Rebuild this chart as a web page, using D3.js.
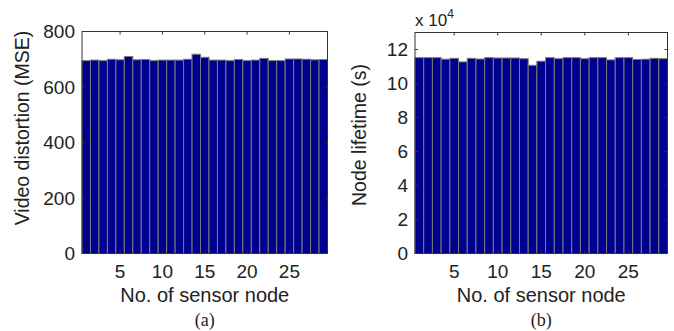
<!DOCTYPE html>
<html><head><meta charset="utf-8">
<script src="https://cdn.jsdelivr.net/npm/d3@7"></script>
<style>body{margin:0;background:#fff}svg{display:block}text{font-family:"Liberation Sans",Arial,sans-serif;fill:#222}</style>
</head><body><svg id="c" width="674" height="331"></svg>
<script>
const nodes = d3.range(1, 30);
const distortion = [695,697,695,700,698,710,698,699,695,697,697,697,700,718,707,697,697,695,699,695,697,703,695,695,701,701,700,698,699];
const lifetime = [115200,115200,115200,114300,114800,112700,114800,114400,115200,115000,115000,115000,114600,110700,113100,115200,114600,115200,115200,114600,115200,115200,113900,115200,115200,114100,114300,114800,114600];
const distTicks = [0,200,400,600,800];
const lifeTicks = [0,2,4,6,8,10,12];
const xTicks = [5,10,15,20,25];

const svg = d3.select("#c");
const FILL = "rgb(0,0,143)", EDGE = "#7a7a7a";

function panel(opt){
  const x = d3.scaleLinear().domain([0.5,29.5]).range([opt.x0,opt.x1]);
  const y = d3.scaleLinear().domain(opt.ydom).range([opt.y1,opt.y0]);
  const g = svg.append("g");
  g.append("rect").attr("x",opt.x0).attr("y",opt.y0).attr("width",opt.x1-opt.x0).attr("height",opt.y1-opt.y0).attr("fill","#fff");
  g.selectAll("rect.bar").data(nodes).join("rect").attr("class","bar")
    .attr("x",d=>x(d-0.5)).attr("width",d=>x(d+0.5)-x(d-0.5))
    .attr("y",(d,i)=>y(opt.vals[i]/opt.div)).attr("height",(d,i)=>y(0)-y(opt.vals[i]/opt.div))
    .attr("fill",FILL).attr("stroke",EDGE).attr("stroke-width",1);
  g.append("rect").attr("x",opt.x0).attr("y",opt.y0).attr("width",opt.x1-opt.x0).attr("height",opt.y1-opt.y0)
    .attr("fill","none").attr("stroke","#333").attr("stroke-width",1);
  const tl = 3;
  opt.yticks.forEach(t=>{
    g.append("line").attr("x1",opt.x0).attr("x2",opt.x0+tl).attr("y1",y(t)).attr("y2",y(t)).attr("stroke","#333");
    g.append("line").attr("x1",opt.x1).attr("x2",opt.x1-tl).attr("y1",y(t)).attr("y2",y(t)).attr("stroke","#333");
    g.append("text").attr("x",opt.x0-7).attr("y",y(t)).attr("dy","0.36em").attr("text-anchor","end").attr("font-size",19).text(t);
  });
  xTicks.forEach(t=>{
    g.append("line").attr("x1",x(t)).attr("x2",x(t)).attr("y1",opt.y1).attr("y2",opt.y1-tl).attr("stroke","#333");
    g.append("line").attr("x1",x(t)).attr("x2",x(t)).attr("y1",opt.y0).attr("y2",opt.y0+tl).attr("stroke","#333");
    g.append("text").attr("x",x(t)).attr("y",278).attr("text-anchor","middle").attr("font-size",19).text(t);
  });
  g.append("text").attr("x",(opt.x0+opt.x1)/2).attr("y",302).attr("text-anchor","middle").attr("font-size",20).text("No. of sensor node");
  g.append("text").attr("x",(opt.x0+opt.x1)/2).attr("y",326).attr("text-anchor","middle").attr("font-size",18)
    .style("font-family","'Liberation Serif','Times New Roman',serif").text(opt.cap);
  g.append("text").attr("transform",`translate(${opt.lx},${opt.ly}) rotate(-90)`).attr("text-anchor","middle").attr("font-size",19.5).text(opt.label);
  return {x,y};
}

panel({x0:82,x1:327.5,y0:31.5,y1:253.5,ydom:[0,800],vals:distortion,div:1,yticks:distTicks,cap:"(a)",label:"Video distortion (MSE)",lx:29,ly:128});
panel({x0:415,x1:667.5,y0:32.5,y1:253.5,ydom:[0,13],vals:lifetime,div:1e4,yticks:lifeTicks,cap:"(b)",label:"Node lifetime (s)",lx:366,ly:135});

const ex = svg.append("text").attr("x",415).attr("y",26).attr("font-size",17);
ex.append("tspan").text("x 10");
ex.append("tspan").attr("dy",-8).attr("font-size",12).text("4");
</script></body></html>
